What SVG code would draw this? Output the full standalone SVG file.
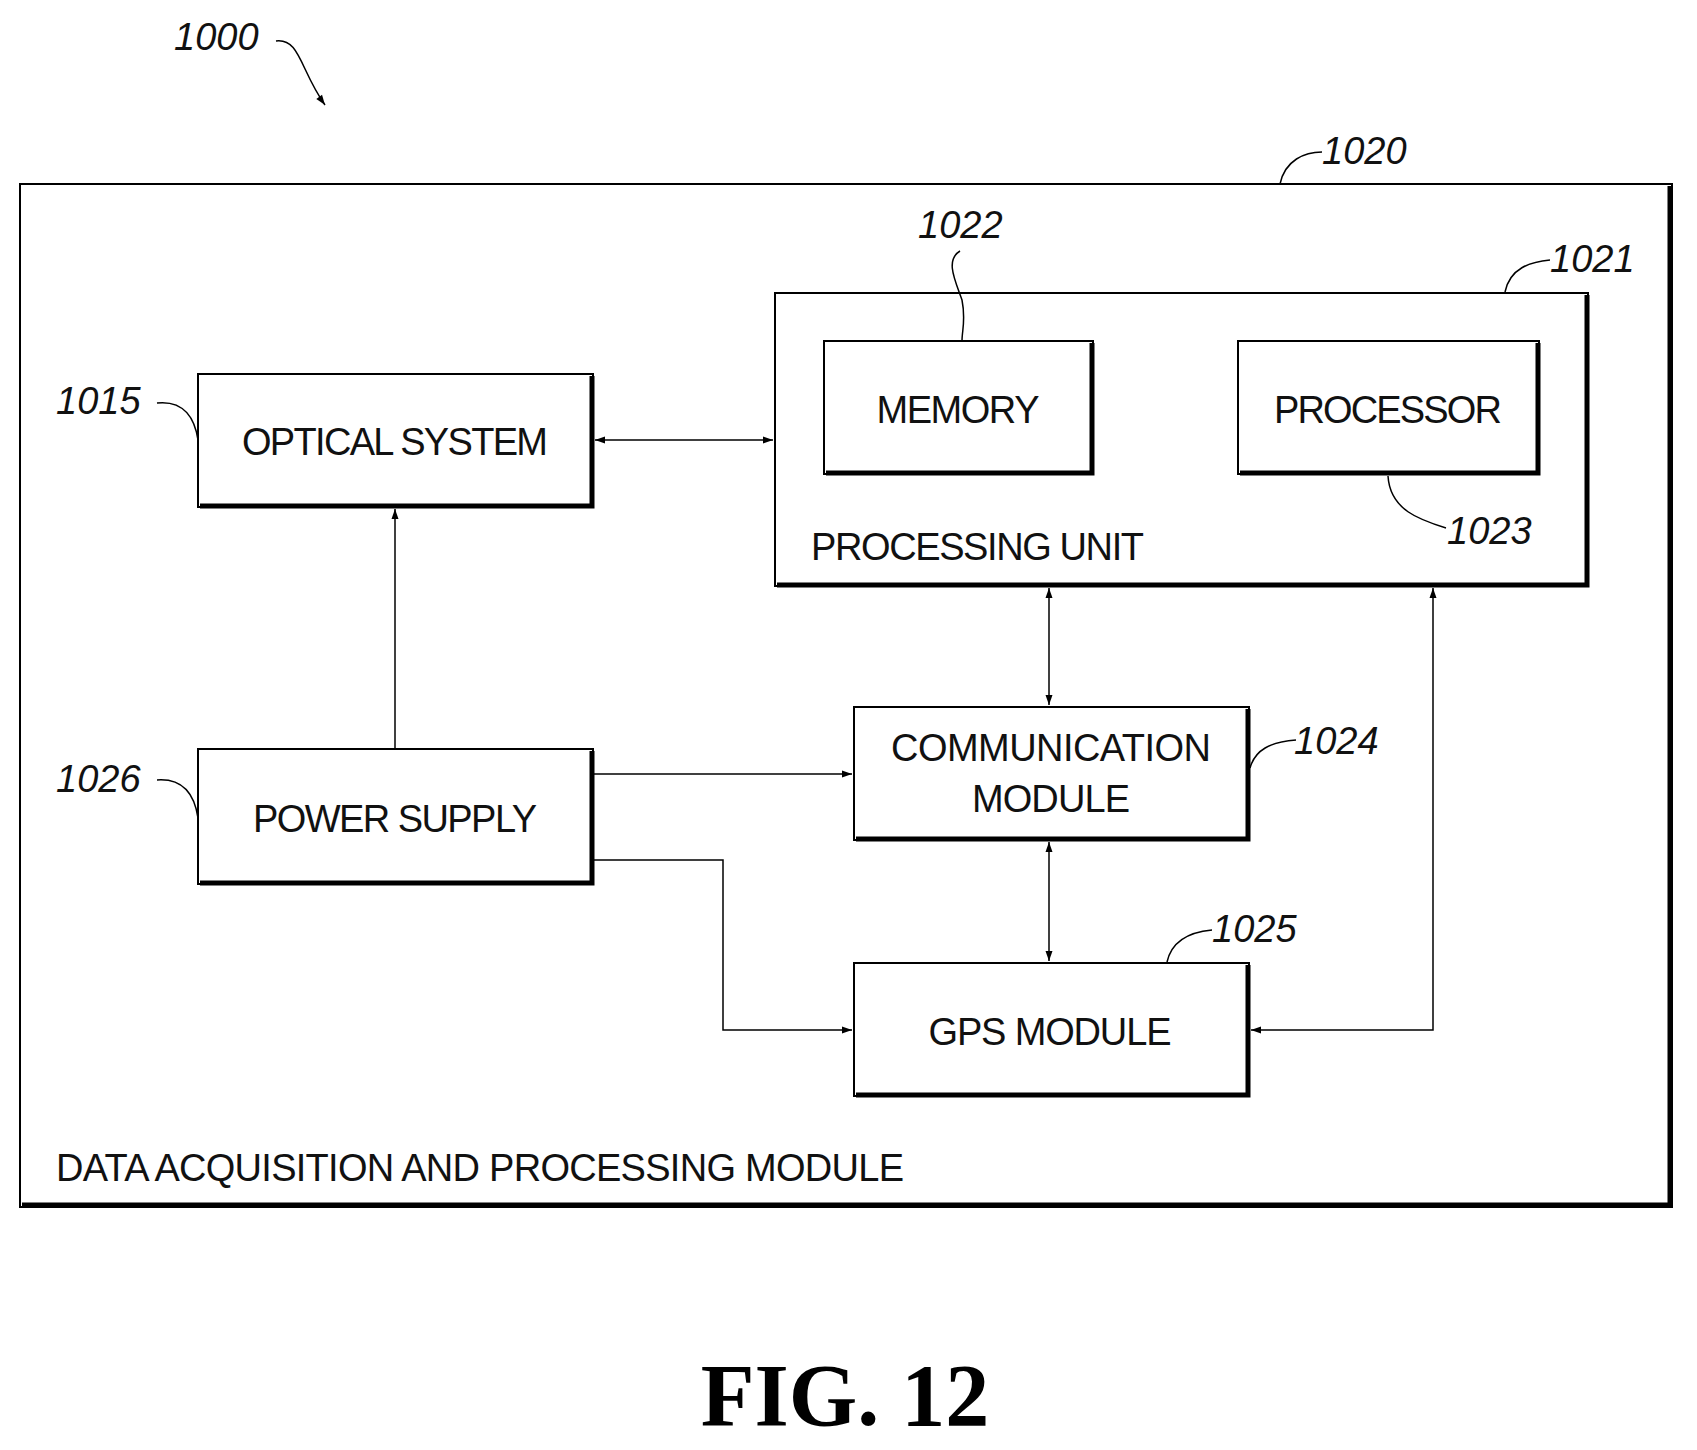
<svg xmlns="http://www.w3.org/2000/svg" width="1697" height="1450" viewBox="0 0 1697 1450">
<style>
.box{fill:none;stroke:#000;stroke-width:2}
.sh{fill:none;stroke:#000;stroke-width:5}
.t{font-family:"Liberation Sans",Arial,sans-serif;font-size:38px;fill:#111;text-anchor:middle}
.tl{font-family:"Liberation Sans",Arial,sans-serif;font-size:38px;fill:#111}
.ref{font-family:"Liberation Sans",Arial,sans-serif;font-size:38px;font-style:italic;fill:#111}
.ld{fill:none;stroke:#000;stroke-width:1.5}
.c{fill:none;stroke:#000;stroke-width:1.5}
</style>
<defs>
<marker id="a" viewBox="0 0 10 10" refX="10" refY="5" markerWidth="16" markerHeight="10" markerUnits="userSpaceOnUse" orient="auto-start-reverse"><path d="M0,1.5 L10,5 L0,8.5 Z" fill="#000"/></marker>
</defs>
<rect width="1697" height="1450" fill="#fff"/>
<g id="n1000"><text class="ref" x="174" y="50">1000</text><path class="ld" d="M276,41 C300,38 300,70 325,105" marker-end="url(#a)"/></g>
<g id="n1020"><rect class="box" x="20" y="184" width="1652" height="1023"/><path class="sh" d="M1670,186 V1205 H22"/>
<text class="tl" x="56" y="1181" textLength="848">DATA ACQUISITION AND PROCESSING MODULE</text>
<text class="ref" x="1322" y="164">1020</text><path class="ld" d="M1280,184 C1285,160 1305,152 1322,152"/></g>
<g id="n1021"><rect class="box" x="775" y="293" width="813" height="293"/><path class="sh" d="M1587,295 V585 H777"/>
<text class="tl" x="811" y="560" textLength="333">PROCESSING UNIT</text>
<text class="ref" x="1550" y="272">1021</text><path class="ld" d="M1505,292 C1510,268 1530,262 1550,260"/></g>
<g id="n1022"><rect class="box" x="824" y="341" width="269" height="133"/><path class="sh" d="M1092,343 V473 H826"/>
<text class="t" x="958" y="423" textLength="163">MEMORY</text>
<text class="ref" x="918" y="238">1022</text><path class="ld" d="M960,251 C945,260 955,280 962,300 C966,320 962,330 962,341"/></g>
<g id="n1023"><rect class="box" x="1238" y="341" width="301" height="133"/><path class="sh" d="M1538,343 V473 H1240"/>
<text class="t" x="1388" y="423" textLength="228">PROCESSOR</text>
<text class="ref" x="1447" y="544">1023</text><path class="ld" d="M1388,476 C1390,510 1420,520 1446,528"/></g>
<g id="n1015"><rect class="box" x="198" y="374" width="395" height="133"/><path class="sh" d="M592,376 V506 H200"/>
<text class="t" x="395" y="455" textLength="306">OPTICAL SYSTEM</text>
<text class="ref" x="56" y="414">1015</text><path class="ld" d="M157,403 C185,400 195,420 198,440"/></g>
<g id="n1024"><rect class="box" x="854" y="707" width="395" height="133"/><path class="sh" d="M1248,709 V839 H856"/>
<text class="t" x="1051" y="761" textLength="320">COMMUNICATION</text><text class="t" x="1051" y="812" textLength="158">MODULE</text>
<text class="ref" x="1294" y="754">1024</text><path class="ld" d="M1296,740 C1270,742 1255,750 1250,768"/></g>
<g id="n1026"><rect class="box" x="198" y="749" width="395" height="135"/><path class="sh" d="M592,751 V883 H200"/>
<text class="t" x="395" y="832" textLength="284">POWER SUPPLY</text>
<text class="ref" x="56" y="792">1026</text><path class="ld" d="M157,780 C185,778 195,798 198,818"/></g>
<g id="n1025"><rect class="box" x="854" y="963" width="395" height="133"/><path class="sh" d="M1248,965 V1095 H856"/>
<text class="t" x="1050" y="1045" textLength="243">GPS MODULE</text>
<text class="ref" x="1212" y="942">1025</text><path class="ld" d="M1167,962 C1172,940 1190,932 1212,930"/></g>
<g id="connectors">
<path class="c" d="M595,440 H773" marker-start="url(#a)" marker-end="url(#a)"/>
<path class="c" d="M395,749 V509" marker-end="url(#a)"/>
<path class="c" d="M1049,588 V705" marker-start="url(#a)" marker-end="url(#a)"/>
<path class="c" d="M1049,842 V961" marker-start="url(#a)" marker-end="url(#a)"/>
<path class="c" d="M593,774 H852" marker-end="url(#a)"/>
<path class="c" d="M593,860 H723 V1030 H852" marker-end="url(#a)"/>
<path class="c" d="M1251,1030 H1433 V588" marker-start="url(#a)" marker-end="url(#a)"/>
</g>
<text x="845" y="1425" style="font-family:'Liberation Serif','Times New Roman',serif;font-size:88px;font-weight:bold;text-anchor:middle;fill:#000">FIG. 12</text>
</svg>
